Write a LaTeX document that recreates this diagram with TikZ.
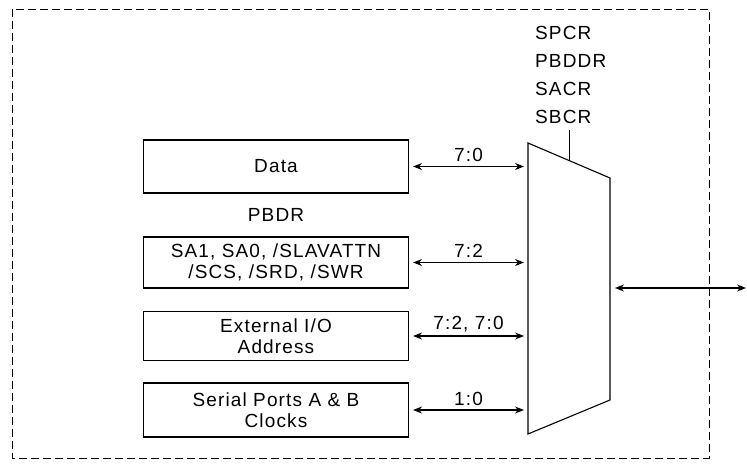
\documentclass[tikz,border=0pt]{standalone}
\usepackage{fontspec}
\setmainfont{Liberation Sans}[LetterSpace=6]
\usetikzlibrary{positioning,calc}
\usetikzlibrary{arrows.meta}
\tikzset{
  blk/.style={draw=black,line width=1.1pt,minimum width=265pt,inner sep=2pt,align=center,font=\fontsize{19}{21}\selectfont},
  bus/.style={draw=black,line width=1.1pt,{Stealth[length=9pt,width=7pt]}-{Stealth[length=9pt,width=7pt]}},
  lbl/.style={font=\fontsize{19}{21}\selectfont,inner sep=1pt},
}
\begin{document}
\begin{tikzpicture}[x=1pt,y=-1pt]
\useasboundingbox (0,0) rectangle (747,471);
\draw[line width=1pt,dash pattern=on 8pt off 4pt] (12,9) rectangle (709,458);
% port B sources
\node[blk,minimum height=53pt](data)at(276,166.5){Data};
\node[lbl](pbdr)at(276,215){PBDR};
\node[blk,minimum height=51pt](sig)at(276,262.5){SA1, SA0, /SLAVATTN\\/SCS, /SRD, /SWR};
\node[blk,minimum height=49pt](ext)at(276,336){External I/O\\Address};
\node[blk,minimum height=54pt](clk)at(276,410){Serial Ports A \& B\\Clocks};
% mux
\coordinate(m1)at(528,143);\coordinate(m2)at(610,178);\coordinate(m3)at(610,400);\coordinate(m4)at(528,434);
\draw[line width=1.1pt](m1)--(m2)--(m3)--(m4)--cycle;
\foreach \b/\t in {data/7:0,sig/7:2,ext/{7:2, 7:0},clk/1:0}{\draw[bus,shorten <=4pt,shorten >=4pt](\b.east)--node[lbl,above=3pt]{\t}(\b.east-|m1);}
\draw[line width=0.8pt]($(m1)!0.51!(m2)$)--++(0,-31);
\foreach \r [count=\i] in {SPCR,PBDDR,SACR,SBCR}{\node[lbl,anchor=west](reg\i)at(534,5+28*\i){\r};}
\coordinate(out)at(746,288);
\draw[bus,shorten <=5pt](m2|-out)--(out);
\end{tikzpicture}
\end{document}
